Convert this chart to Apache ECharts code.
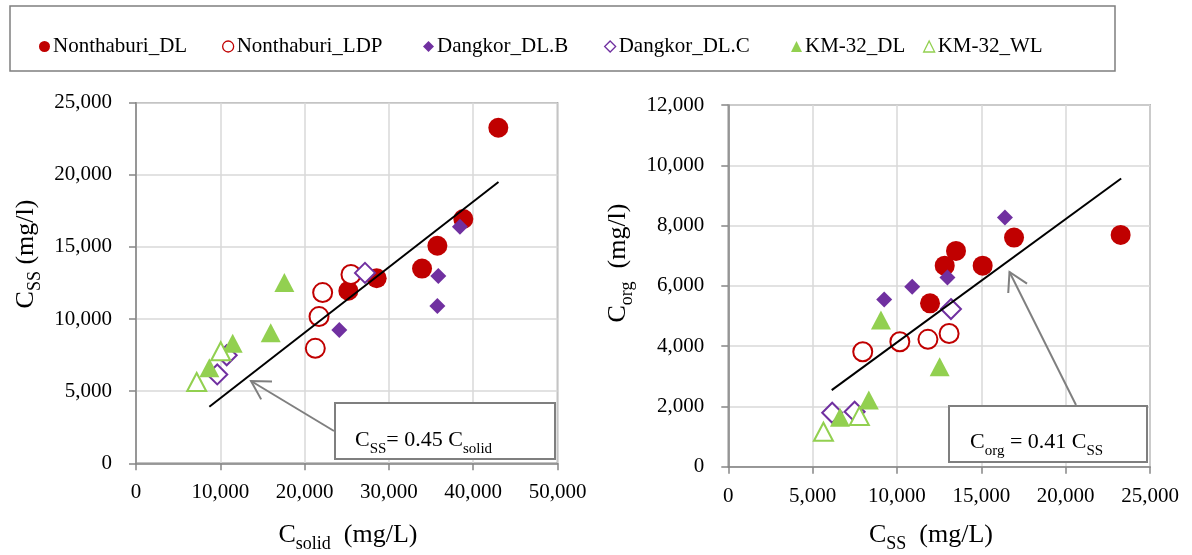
<!DOCTYPE html>
<html><head><meta charset="utf-8">
<script src="https://cdn.jsdelivr.net/npm/echarts@6/dist/echarts.min.js"></script>
<style>html,body{margin:0;padding:0;background:#fff}#c{width:1192px;height:555px}</style>
</head><body><div id="c"></div><script>
// ---------- DATA ----------
const seriesNames = ['Nonthaburi_DL','Nonthaburi_LDP','Dangkor_DL.B','Dangkor_DL.C','KM-32_DL','KM-32_WL'];
// C_solid, C_SS, C_org for each site (mg/L)
const nonDL_solid  = [42980, 38830, 35750, 33930, 28550, 25190];
const nonDL_ss     = [23260, 16940, 15080, 13500, 12830, 11960];
const nonDL_org    = [ 7690,  7600,  6670,  7160,  6670,  5420];
const nonLDP_solid = [25500, 22140, 21710, 21270];
const nonLDP_ss    = [13090, 11835, 10170,  7970];
const nonLDP_org   = [ 4420,  4225,  4145,  3815];
const dkB_solid    = [38430, 35860, 35750, 24120];
const dkB_ss       = [16400, 12990, 10900,  9240];
const dkB_org      = [ 8270,  6280,  5970,  5550];
const dkC_solid    = [27165, 10760,  9640];
const dkC_ss       = [13200,  7490,  6160];
const dkC_org      = [ 5230,  1825,  1790];
const kmDL_solid   = [17600, 15980, 11470,  8700];
const kmDL_ss      = [12530,  9050,  8330,  6620];
const kmDL_org     = [ 3320,  4865,  2210,  1640];
const kmWL_solid   = [10050,  7200];
const kmWL_ss      = [ 7770,  5640];
const kmWL_org     = [ 1680,  1160];
// fitted lines (end points)
const trendLeft  = [[8700, 3920], [43000, 19500]];   // C_SS = 0.45 C_solid
const trendRight = [[6130, 2540], [23290, 9560]];    // C_org = 0.41 C_SS
// axis ticks
const leftXTicks  = [0, 10000, 20000, 30000, 40000, 50000];
const leftYTicks  = [0, 5000, 10000, 15000, 20000, 25000];
const rightXTicks = [0, 5000, 10000, 15000, 20000, 25000];
const rightYTicks = [0, 2000, 4000, 6000, 8000, 10000, 12000];

const siteData = [
  [nonDL_solid, nonDL_ss, nonDL_org],
  [nonLDP_solid, nonLDP_ss, nonLDP_org],
  [dkB_solid, dkB_ss, dkB_org],
  [dkC_solid, dkC_ss, dkC_org],
  [kmDL_solid, kmDL_ss, kmDL_org],
  [kmWL_solid, kmWL_ss, kmWL_org]
];
// ---------- STYLE ----------
const FAM = 'Liberation Serif';
const RED = '#C00000', PUR = '#7030A0', GRN = '#92D050';
const markStyle = [
  {symbol:'circle',   size:20,      fill:RED,    stroke:null},
  {symbol:'circle',   size:19,      fill:'#fff', stroke:RED},
  {symbol:'diamond',  size:16,      fill:PUR,    stroke:null},
  {symbol:'diamond',  size:20,      fill:'#fff', stroke:PUR},
  {symbol:'triangle', size:[20,19], fill:GRN,    stroke:null},
  {symbol:'triangle', size:[19,18], fill:'#fff', stroke:GRN}
];
const fmt = v => String(v).replace(/\B(?=(\d{3})+(?!\d))/g, ',');
const AX = '#868686';

function mkX(idx, ticks){
  return {gridIndex:idx, type:'value', min:ticks[0], max:ticks[ticks.length-1], interval:ticks[1]-ticks[0],
    axisLine:{onZero:false, lineStyle:{color:AX, width:1.5}},
    axisTick:{length:7, lineStyle:{color:AX, width:1.5}},
    axisLabel:{margin:19, fontFamily:FAM, fontSize:21, color:'#000', formatter:fmt},
    splitLine:{lineStyle:{color:'#d9d9d9', width:1.5}}};
}
function mkY(idx, ticks){
  return {gridIndex:idx, type:'value', min:ticks[0], max:ticks[ticks.length-1], interval:ticks[1]-ticks[0],
    axisLine:{show:true, onZero:false, lineStyle:{color:AX, width:1.5}},
    axisTick:{show:true, length:7, lineStyle:{color:AX, width:1.5}},
    axisLabel:{margin:24, fontFamily:FAM, fontSize:21, color:'#000', formatter:fmt},
    splitLine:{lineStyle:{color:'#d9d9d9', width:1.5}}};
}

const series = [];
[0,1].forEach(chart => {
  siteData.forEach((d, i) => {
    const xs = chart === 0 ? d[0] : d[1];
    const ys = chart === 0 ? d[1] : d[2];
    const st = markStyle[i];
    series.push({
      name: seriesNames[i], type:'scatter', xAxisIndex:chart, yAxisIndex:chart,
      symbol: st.symbol, symbolSize: st.size,
      data: xs.map((x, k) => [x, ys[k]]),
      itemStyle: st.stroke ? {color:st.fill, borderColor:st.stroke, borderWidth:2, opacity:1} : {color:st.fill, opacity:1},
      emphasis:{disabled:true},
      z: 2 + i * 0.01
    });
  });
});
series.push({type:'line', xAxisIndex:0, yAxisIndex:0, data:trendLeft, symbol:'none', silent:true,
  lineStyle:{color:'#000', width:2}, z:5});
series.push({type:'line', xAxisIndex:1, yAxisIndex:1, data:trendRight, symbol:'none', silent:true,
  lineStyle:{color:'#000', width:2}, z:5});

// legends (one per entry, placed like the reference)
const legendLeft = [34, 217, 418, 599, 786, 918];
const legends = seriesNames.map((n, i) => ({
  data:[n], left:legendLeft[i], top:31, itemWidth:11, itemHeight:11, itemGap:0,
  icon: markStyle[i].symbol,
  itemStyle: markStyle[i].stroke ? {borderWidth:1.3, opacity:1} : {opacity:1},
  textStyle:{fontFamily:FAM, fontSize:21, color:'#000', padding:[0,0,0,-2]},
  selectedMode:false
}));

// rich text helper
function rich(mfs, sfs, lh, pad){
  return {
    m:{fontFamily:FAM, fontSize:mfs, lineHeight:lh, verticalAlign:'top', color:'#000'},
    s:{fontFamily:FAM, fontSize:sfs, lineHeight:sfs, verticalAlign:'top', padding:[pad,0,0,0], color:'#000'}
  };
}
function label(text, x, y, rot, r, align){
  return {type:'text', x:x, y:y, rotation:rot||0, z:60,
    style:{text:text, rich:r, align:align||'center', verticalAlign:'middle'}};
}
function arrow(x1, y1, tx, ty, len){
  const a = Math.atan2(y1 - ty, x1 - tx), s = Math.PI / 6;
  const p1 = [tx + len*Math.cos(a+s), ty + len*Math.sin(a+s)];
  const p2 = [tx + len*Math.cos(a-s), ty + len*Math.sin(a-s)];
  return [
    {type:'polyline', z:40, shape:{points:[[x1,y1],[tx,ty]]}, style:{stroke:'#7f7f7f', lineWidth:2, fill:null}},
    {type:'polyline', z:40, shape:{points:[p1,[tx,ty],p2]}, style:{stroke:'#7f7f7f', lineWidth:2, fill:null}}
  ];
}
const axRich = rich(26, 18, 30, 13);
const eqRich = rich(22, 15, 28, 13);

const graphic = [
  {type:'rect', z:30, shape:{x:10, y:6, width:1105, height:65}, style:{fill:null, stroke:'#7f7f7f', lineWidth:1.5}},
  ...arrow(334, 431, 251, 381, 21),
  ...arrow(1076, 405, 1009.5, 272, 21),
  {type:'rect', z:45, shape:{x:335, y:403, width:220, height:56}, style:{fill:'#fff', stroke:'#7f7f7f', lineWidth:2}},
  {type:'rect', z:45, shape:{x:949, y:406, width:198, height:56}, style:{fill:'#fff', stroke:'#7f7f7f', lineWidth:2}},
  {type:'text', z:60, x:355, y:429, style:{text:'{m|C}{s|SS}{m|= 0.45 C}{s|solid}', rich:eqRich, align:'left', verticalAlign:'top'}},
  {type:'text', z:60, x:970, y:431, style:{text:'{m|C}{s|org}{m| = 0.41 C}{s|SS}', rich:eqRich, align:'left', verticalAlign:'top'}},
  label('{m|C}{s|SS}{m| (mg/l)}', 28, 254, Math.PI/2, axRich),
  label('{m|C}{s|org}{m|  (mg/l)}', 620, 263, Math.PI/2, axRich),
  label('{m|C}{s|solid}{m|  (mg/L)}', 348, 537, 0, axRich),
  label('{m|C}{s|SS}{m|  (mg/L)}', 931, 537, 0, axRich)
];

const chart = echarts.init(document.getElementById('c'), null, {renderer:'canvas'});
chart.setOption({
  animation:false,
  backgroundColor:'#fff',
  grid:[
    {left:136, top:102.7, width:421.5, height:360.6, show:true, borderColor:AX, borderWidth:1.5, backgroundColor:'transparent'},
    {left:728.3, top:105, width:421.7, height:361.7, show:true, borderColor:AX, borderWidth:1.5, backgroundColor:'transparent'}
  ],
  xAxis:[mkX(0, leftXTicks), mkX(1, rightXTicks)],
  yAxis:[mkY(0, leftYTicks), mkY(1, rightYTicks)],
  legend: legends,
  series: series,
  graphic: graphic
});
</script></body></html>
